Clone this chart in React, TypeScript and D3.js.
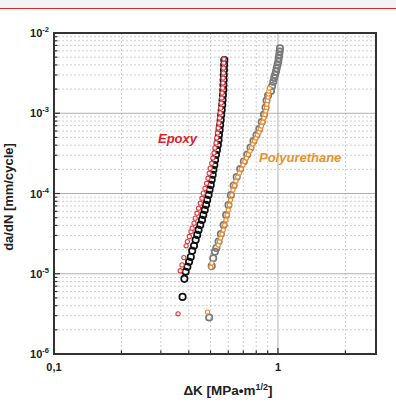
import React from 'react';
import * as d3 from 'd3';

// [dK (MPa*m^1/2), da/dN (mm/cycle)]
const epoxyBlack: [number, number][] = [
	[0.375, 5.15e-6], [0.382, 8.64e-6], [0.387, 1.06e-5], [0.394, 1.22e-5], [0.401, 1.41e-5],
	[0.408, 1.62e-5], [0.414, 1.93e-5], [0.422, 2.23e-5], [0.429, 2.64e-5], [0.436, 3.05e-5],
	[0.442, 3.52e-5], [0.45, 4.06e-5], [0.458, 4.69e-5], [0.464, 5.41e-5], [0.471, 6.25e-5],
	[0.477, 7.21e-5], [0.483, 8.32e-5], [0.49, 9.61e-5], [0.495, 1.11e-4], [0.501, 1.28e-4],
	[0.506, 1.48e-4], [0.511, 1.71e-4], [0.515, 1.97e-4], [0.52, 2.27e-4], [0.524, 2.62e-4],
	[0.529, 3.03e-4], [0.534, 3.49e-4], [0.539, 4.03e-4], [0.543, 4.65e-4], [0.545, 5.37e-4],
	[0.549, 6.19e-4], [0.552, 7.15e-4], [0.555, 8.25e-4], [0.558, 9.52e-4], [0.561, 1.1e-3],
	[0.564, 1.27e-3], [0.566, 1.46e-3], [0.568, 1.69e-3], [0.57, 1.95e-3], [0.571, 2.25e-3],
	[0.572, 2.6e-3], [0.573, 3.0e-3], [0.574, 3.46e-3], [0.575, 4.0e-3], [0.576, 4.61e-3],
];

const epoxyRed: [number, number][] = [
	[0.358, 3.17e-6], [0.366, 1.09e-5], [0.373, 1.29e-5], [0.38, 1.59e-5], [0.389, 2.23e-5],
	[0.394, 2.52e-5], [0.402, 2.91e-5], [0.409, 3.35e-5], [0.414, 3.7e-5], [0.422, 4.27e-5],
	[0.427, 4.93e-5], [0.435, 5.68e-5], [0.442, 6.56e-5], [0.45, 7.57e-5], [0.458, 8.74e-5],
	[0.464, 1.01e-4], [0.472, 1.16e-4], [0.48, 1.34e-4], [0.487, 1.55e-4], [0.493, 1.79e-4],
	[0.498, 2.07e-4], [0.506, 2.38e-4], [0.512, 2.77e-4], [0.518, 3.2e-4], [0.523, 3.7e-4],
	[0.529, 4.27e-4], [0.533, 4.93e-4], [0.537, 5.68e-4], [0.541, 6.56e-4], [0.545, 7.57e-4],
	[0.549, 8.74e-4], [0.552, 1.01e-3], [0.555, 1.16e-3], [0.558, 1.34e-3], [0.561, 1.55e-3],
	[0.563, 1.79e-3], [0.566, 2.07e-3], [0.568, 2.38e-3], [0.569, 2.75e-3], [0.571, 3.18e-3],
	[0.572, 3.67e-3], [0.573, 4.23e-3], [0.574, 4.74e-3],
];

const puGray: [number, number][] = [
	[0.493, 2.85e-6], [0.506, 1.25e-5], [0.514, 1.56e-5], [0.523, 1.88e-5], [0.531, 2.09e-5],
	[0.543, 2.52e-5], [0.556, 3.13e-5], [0.572, 4.05e-5], [0.587, 5.4e-5], [0.601, 7.19e-5],
	[0.616, 9.58e-5], [0.634, 1.26e-4], [0.654, 1.6e-4], [0.678, 2.02e-4], [0.704, 2.51e-4],
	[0.729, 3.06e-4], [0.754, 3.74e-4], [0.777, 4.51e-4], [0.802, 5.36e-4], [0.825, 6.36e-4],
	[0.846, 7.78e-4], [0.866, 9.65e-4], [0.88, 1.18e-3], [0.889, 1.44e-3], [0.903, 1.66e-3],
	[0.931, 1.89e-3], [0.942, 2.19e-3], [0.953, 2.47e-3], [0.962, 2.75e-3], [0.97, 3.0e-3],
	[0.98, 3.31e-3], [0.987, 3.63e-3], [0.995, 3.99e-3], [1.003, 4.39e-3], [1.008, 4.84e-3],
	[1.013, 5.32e-3], [1.018, 5.88e-3], [1.021, 6.45e-3],
];

const puOrange: [number, number][] = [
	[0.485, 3.33e-6], [0.502, 1.21e-5], [0.507, 1.36e-5], [0.541, 2.28e-5], [0.548, 2.52e-5],
	[0.555, 2.79e-5], [0.562, 3.13e-5], [0.57, 3.51e-5], [0.578, 4.05e-5], [0.586, 4.68e-5],
	[0.593, 5.4e-5], [0.6, 6.23e-5], [0.607, 7.19e-5], [0.614, 8.3e-5], [0.622, 9.58e-5],
	[0.63, 1.106e-4], [0.64, 1.258e-4], [0.649, 1.431e-4], [0.661, 1.605e-4], [0.673, 1.8e-4],
	[0.685, 2.02e-4], [0.698, 2.27e-4], [0.711, 2.51e-4], [0.724, 2.77e-4], [0.736, 3.06e-4],
	[0.75, 3.39e-4], [0.762, 3.74e-4], [0.773, 4.14e-4], [0.785, 4.51e-4], [0.798, 4.92e-4],
	[0.81, 5.36e-4], [0.823, 5.84e-4], [0.833, 6.36e-4], [0.844, 6.94e-4], [0.855, 7.78e-4],
	[0.866, 8.73e-4], [0.875, 9.65e-4], [0.882, 1.067e-3], [0.889, 1.18e-3], [0.893, 1.3e-3],
	[0.898, 1.44e-3], [0.903, 1.59e-3], [0.906, 1.74e-3], [0.91, 1.89e-3], [0.915, 2.06e-3],
];

const yTickExps = [-2, -3, -4, -5, -6];
const xTickLabels: [number, string][] = [[0.1, '0,1'], [1, '1']];

const font = "'Liberation Sans', Arial, sans-serif";

export default function App() {
	const x = d3.scaleLog().domain([0.1, 2.74]).range([54, 376]);
	const y = d3.scaleLog().domain([1e-6, 1e-2]).range([354, 33]);

	const isMajor = (v: number) => Math.abs(Math.log10(v) - Math.round(Math.log10(v))) < 1e-6;
	const xTicks = x.ticks().filter((v) => v > 0.1 && v <= 2.74);
	const yTicks = y.ticks().filter((v) => v > 1e-6 && v < 1e-2);

	const dots = (data: [number, number][], r: number, stroke: string, sw: number, fill: string) =>
		data.map((d, i) => (
			<circle key={i} cx={x(d[0])} cy={y(d[1])} r={r} fill={fill} stroke={stroke} strokeWidth={sw} />
		));

	return (
		<svg width={396} height={407} style={{ position: 'absolute', left: 0, top: 0, background: '#fff' }} fontFamily={font}>
			<rect x={0} y={0} width={396} height={8} fill="#f3f3f3" />
			<line x1={0} x2={396} y1={8.5} y2={8.5} stroke="#e3262f" strokeWidth={1.2} />

			{/* grid */}
			{xTicks.map((v) => (
				<line key={'gx' + v} x1={x(v)} x2={x(v)} y1={33} y2={354}
					stroke={isMajor(v) ? '#b0b0b0' : '#cfcfcf'} strokeWidth={1}
					strokeDasharray={isMajor(v) ? undefined : '2,2'} />
			))}
			{yTicks.map((v) => (
				<line key={'gy' + v} x1={54} x2={376} y1={y(v)} y2={y(v)}
					stroke={isMajor(v) ? '#b0b0b0' : '#cfcfcf'} strokeWidth={1}
					strokeDasharray={isMajor(v) ? undefined : '2,2'} />
			))}

			{/* tick marks */}
			{yTicks.map((v) => (
				<line key={'ty' + v} x1={54} x2={54 + (isMajor(v) ? 6 : 3.5)} y1={y(v)} y2={y(v)} stroke="#333" strokeWidth={1.2} />
			))}
			{xTicks.map((v) => (
				<line key={'tx' + v} x1={x(v)} x2={x(v)} y1={354} y2={354 - (isMajor(v) ? 6 : 3.5)} stroke="#333" strokeWidth={1.2} />
			))}

			{/* data */}
			<g>{dots(epoxyBlack, 3.2, '#111', 1.7, 'none')}</g>
			<g>{dots(epoxyRed, 2.1, '#e2383d', 1.1, '#fff')}</g>
			<g>{dots(puGray, 3.2, '#7a7a7a', 1.7, 'none')}</g>
			<g>{dots(puOrange, 2.1, '#f0892c', 1.1, '#fff')}</g>

			<rect x={54} y={33} width={322} height={321} fill="none" stroke="#333" strokeWidth={2} />

			{/* tick labels */}
			{yTickExps.map((e) => (
				<text key={'yl' + e} x={49} y={y(Math.pow(10, e)) + 4} textAnchor="end" fontSize={11} fontWeight="bold" fill="#222">
					10<tspan dy={-5} fontSize={7.5}>{e}</tspan>
				</text>
			))}
			{xTickLabels.map(([v, s]) => (
				<text key={'xl' + s} x={x(v)} y={371} textAnchor="middle" fontSize={11} fontWeight="bold" fill="#222">{s}</text>
			))}

			{/* axis titles */}
			<text x={228} y={395} textAnchor="middle" fontSize={13.5} fontWeight="bold" fill="#222">
				ΔK [MPa•m<tspan dy={-5} fontSize={9}>1/2</tspan><tspan dy={5}>]</tspan>
			</text>
			<text transform="translate(12.5,197) rotate(-90)" textAnchor="middle" fontSize={13} fontWeight="bold" fill="#222">
				da/dN [mm/cycle]
			</text>

			{/* series labels */}
			<text x={158} y={143} fontSize={13} fontWeight="bold" fontStyle="italic" fill="#d9232e">Epoxy</text>
			<text x={259} y={162} fontSize={13} fontWeight="bold" fontStyle="italic" fill="#e8922a">Polyurethane</text>
		</svg>
	);
}
